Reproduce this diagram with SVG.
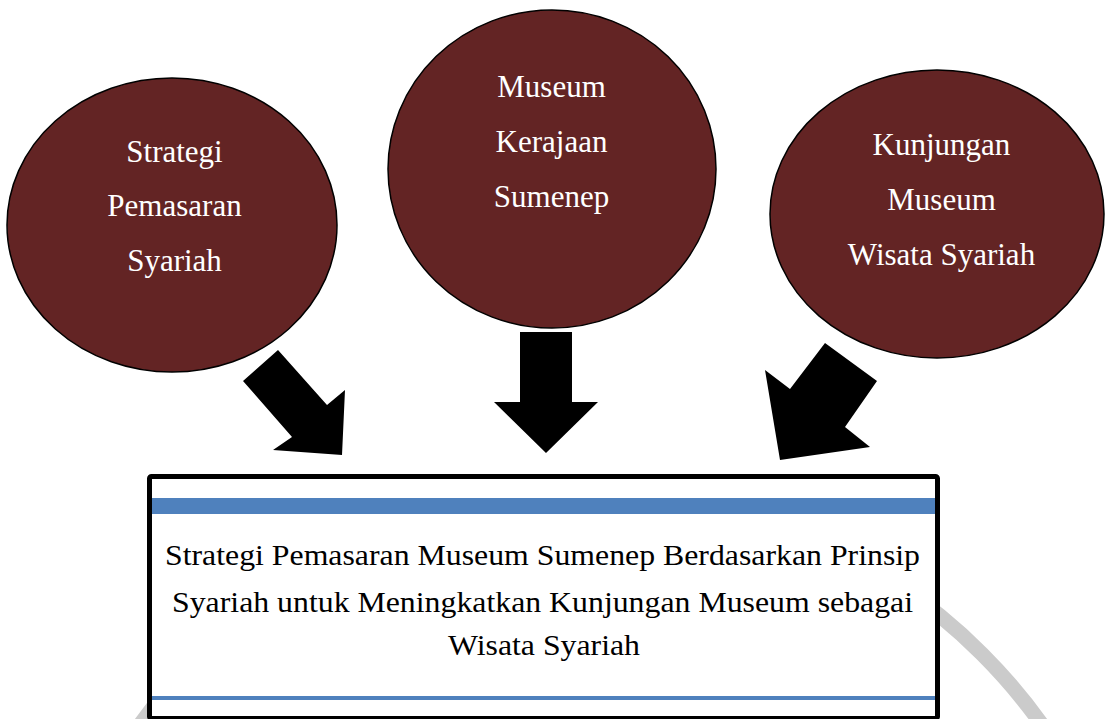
<svg xmlns="http://www.w3.org/2000/svg" width="1105" height="719" viewBox="0 0 1105 719">
  <style>
    .node ellipse { fill: #632424; stroke: #000000; stroke-width: 1.5; }
    .ntext { font-size: 31px; fill: #ffffff; text-anchor: middle; }
    .btext { font-size: 30px; fill: #000000; text-anchor: middle; }
    .arrow { fill: #000000; }
  </style>
  <rect x="0" y="0" width="1105" height="719" fill="#ffffff"/>
  <circle cx="591" cy="1045" r="553" fill="none" stroke="#cbcbcb" stroke-width="15"/>

  <g id="node-strategi" class="node" font-family="Liberation Serif, Times New Roman, serif">
    <ellipse cx="172" cy="225" rx="165" ry="147"/>
    <text class="ntext" x="174.5" y="162">Strategi</text>
    <text class="ntext" x="174.5" y="216">Pemasaran</text>
    <text class="ntext" x="174.5" y="271">Syariah</text>
  </g>
  <g id="node-museum" class="node" font-family="Liberation Serif, Times New Roman, serif">
    <ellipse cx="552" cy="169" rx="164" ry="159"/>
    <text class="ntext" x="551.5" y="97">Museum</text>
    <text class="ntext" x="551.5" y="152">Kerajaan</text>
    <text class="ntext" x="551.5" y="207">Sumenep</text>
  </g>
  <g id="node-kunjungan" class="node" font-family="Liberation Serif, Times New Roman, serif">
    <ellipse cx="937" cy="214" rx="167" ry="144"/>
    <text class="ntext" x="941.5" y="155">Kunjungan</text>
    <text class="ntext" x="941.5" y="210">Museum</text>
    <text class="ntext" x="941.5" y="265">Wisata Syariah</text>
  </g>

  <g id="connectors">
    <polygon class="arrow" points="278,350 327,405 345,390 342,455 273,450 292,437 243,381"/>
    <polygon class="arrow" points="520,332 572,332 572,402 598,402 546,453 494,402 520,402"/>
    <polygon class="arrow" points="825,343 877,381 845,427 870,447 780,460 765,370 790,389"/>
  </g>

  <g id="node-result" font-family="Liberation Serif, Times New Roman, serif">
    <rect x="149.5" y="476.5" width="788" height="242" rx="2" fill="#ffffff" stroke="#000000" stroke-width="5"/>
    <rect x="152" y="498" width="783" height="16" fill="#4f81bd"/>
    <rect x="152" y="696" width="783" height="4" fill="#4f81bd"/>
    <text class="btext" x="542.5" y="565" textLength="755" lengthAdjust="spacingAndGlyphs">Strategi Pemasaran Museum Sumenep Berdasarkan Prinsip</text>
    <text class="btext" x="542.5" y="612" textLength="741" lengthAdjust="spacingAndGlyphs">Syariah untuk Meningkatkan Kunjungan Museum sebagai</text>
    <text class="btext" x="544" y="655" textLength="192" lengthAdjust="spacingAndGlyphs">Wisata Syariah</text>
  </g>
</svg>
